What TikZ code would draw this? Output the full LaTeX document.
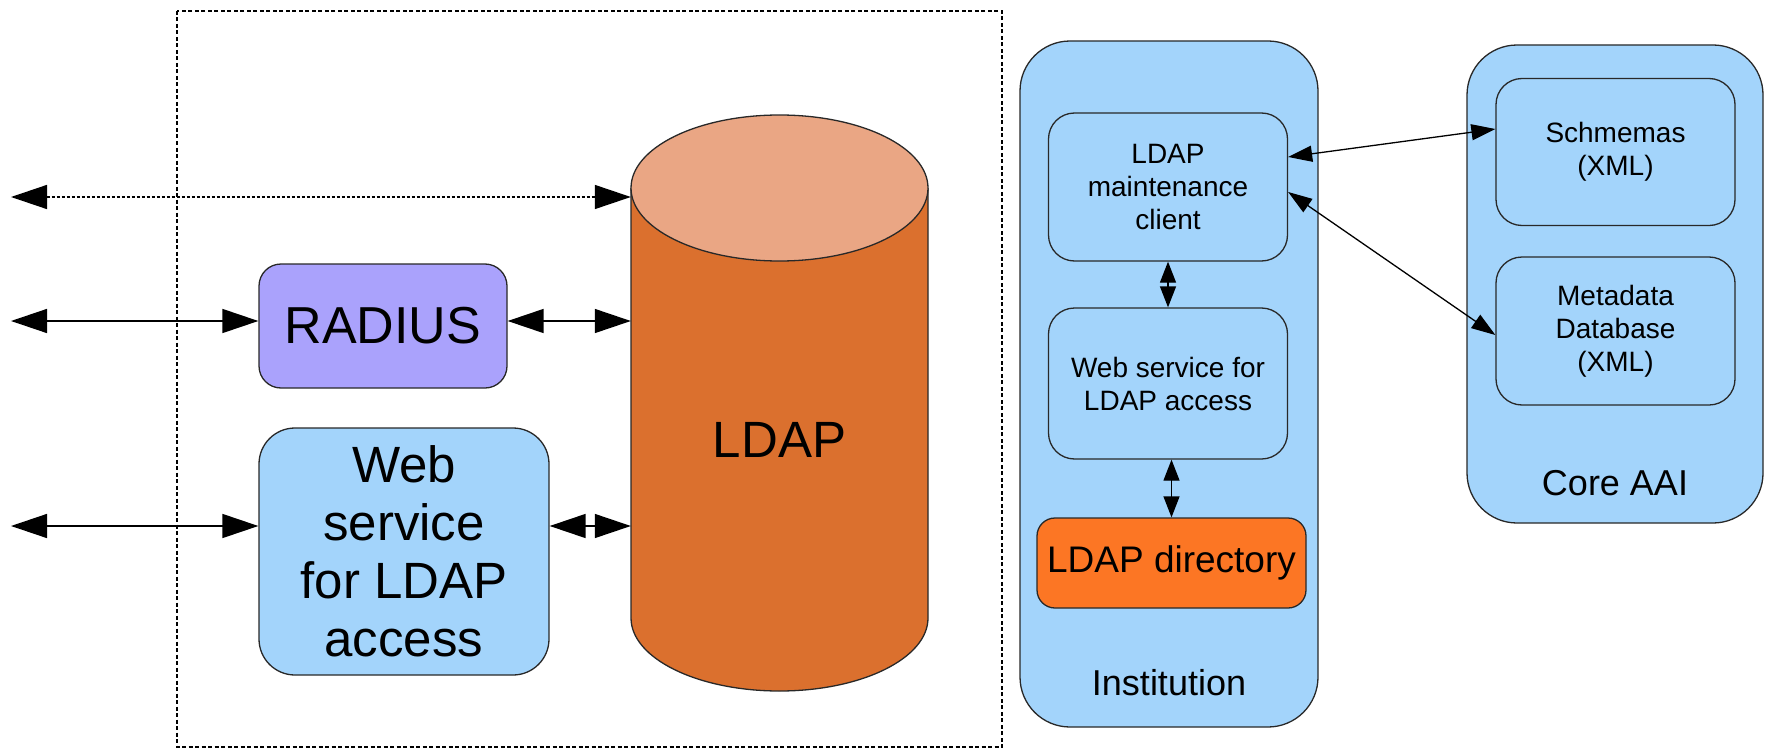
\documentclass[tikz,border=0pt]{standalone}
\usepackage{fontspec}
\setmainfont{Liberation Sans}
\usetikzlibrary{arrows.meta}
\definecolor{lblue}{RGB}{163,212,251}
\definecolor{lav}{RGB}{170,162,252}
\definecolor{cylbody}{RGB}{219,112,46}
\definecolor{cyltop}{RGB}{234,166,132}
\definecolor{dirorange}{RGB}{252,118,36}
\definecolor{edge}{RGB}{40,40,40}
\begin{document}
\begin{tikzpicture}[x=1pt,y=-1pt,
  box/.style={draw=edge, line width=1.3pt, align=center, inner sep=0pt},
  panel/.style={box, fill=lblue, rounded corners=50pt},
  inner/.style={box, fill=lblue, rounded corners=26pt, minimum width=239pt, font=\fontsize{28}{33}\selectfont},
  bigarrow/.style={line width=1.4pt, {Triangle[length=36pt,width=24pt]}-{Triangle[length=36pt,width=24pt]}},
  smallarrow/.style={line width=1.3pt, {Triangle[length=24pt,width=16pt]}-{Triangle[length=24pt,width=16pt]}},
  vertarrow/.style={line width=1.3pt, {Triangle[length=21pt,width=16pt]}-{Triangle[length=21pt,width=16pt]}},
  label/.style={inner sep=0pt, align=center}
]
\useasboundingbox (0,0) rectangle (1768,749);

% dashed frame
\draw[line width=1.1pt, dash pattern=on 4pt off 2.5pt] (177,11) rectangle (1002,747);

% cylinder
\node[minimum width=297pt, minimum height=576pt, inner sep=0pt] (cyl) at (779.5,403) {};
\path[fill=cylbody, draw=edge, line width=1.3pt] (631,188) -- (631,618)
  arc[start angle=180, end angle=360, x radius=148.5pt, y radius=73pt] -- (928,188);
\draw[fill=cyltop, draw=edge, line width=1.3pt] (779.5,188) ellipse[x radius=148.5pt, y radius=73pt];
\node[label, font=\fontsize{51}{58}\selectfont] (ldap) at (779.5,440) {LDAP};

% left boxes
\node[box, fill=lav, rounded corners=22pt, minimum width=248pt, minimum height=124pt,
      font=\fontsize{52}{58}\selectfont] (radius) at (383,326) {RADIUS};
\node[box, fill=lblue, rounded corners=36pt, minimum width=290pt, minimum height=247pt,
      font=\fontsize{51}{58}\selectfont] (web) at (404,551.5) {Web\\service\\for LDAP\\access};

% external ends
\coordinate (extA) at (11,197);
\coordinate (extB) at (11,321);
\coordinate (extC) at (11,526);

\draw[bigarrow, dash pattern=on 3pt off 2pt] (extA) -- (extA -| cyl.west);
\draw[bigarrow] (extB) -- (extB -| radius.west);
\draw[bigarrow] (radius.east |- extB) -- (extB -| cyl.west);
\draw[bigarrow] (extC) -- (extC -| web.west);
\draw[bigarrow] (web.east |- extC) -- (extC -| cyl.west);

% Institution panel
\node[panel, minimum width=298pt, minimum height=686pt] (inst) at (1169,384) {};
\node[inner, minimum height=148pt] (maint) at (1168,187) {LDAP\\maintenance\\client};
\node[inner, minimum height=151pt] (wsmall) at (1168,383.5) {Web service for\\LDAP access};
\node[box, fill=dirorange, rounded corners=18pt, minimum width=269pt, minimum height=90pt,
      font=\fontsize{37}{44}\selectfont] (dir) at (1171.5,563) {LDAP directory};
\node[label, font=\fontsize{36}{42}\selectfont] (instlbl) at (1169,683) {Institution};

% Core AAI panel
\node[panel, minimum width=296pt, minimum height=478pt] (core) at (1615,284) {};
\node[inner, minimum height=147pt] (schm) at (1615.5,152) {Schmemas\\(XML)};
\node[inner, minimum height=148pt] (meta) at (1615.5,331) {Metadata\\Database\\(XML)};
\node[label, font=\fontsize{36}{42}\selectfont] (corelbl) at (1615,483) {Core AAI};

% right connectors
\draw[smallarrow] ([yshift=30pt]maint.east) -- ([yshift=23pt]schm.west);
\draw[smallarrow] ([yshift=-5pt]maint.east) -- ([yshift=-4pt]meta.west);
\draw[vertarrow] (maint.south) -- (wsmall.north);
\draw[vertarrow] (dir.north |- wsmall.south) -- (dir.north);
\end{tikzpicture}
\end{document}
